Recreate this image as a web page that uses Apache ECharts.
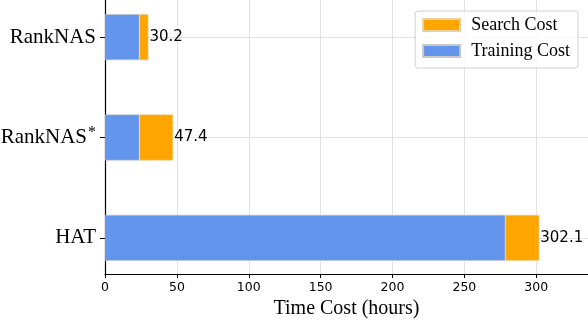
<!DOCTYPE html>
<html>
<head>
<meta charset="utf-8">
<script src="https://cdn.jsdelivr.net/npm/echarts@6/dist/echarts.min.js"></script>
<style>html,body{margin:0;padding:0;background:#fff}#c{width:588px;height:320px}</style>
</head>
<body>
<div id="c"></div>
<script>
// bottom-to-top order
const categories = ['HAT', 'RankNAS*', 'RankNAS'];
const trainingCost = [278.5, 24.0, 24.0];
const searchCost = [23.6, 23.4, 6.2];
const xTicks = [0, 50, 100, 150, 200, 250, 300];

const SERIF = 'Liberation Serif';
const SANS = 'DejaVu Sans';
const XMAX = 336;

const chart = echarts.init(document.getElementById('c'), null, {renderer: 'canvas'});
chart.setOption({
  animation: false,
  backgroundColor: '#fff',
  grid: [
    {left: 105, right: 0, top: -13, bottom: 32, containLabel: false, outerBoundsMode: 'none'},
    {left: 105, right: 0, top: 0, bottom: 46, containLabel: false, outerBoundsMode: 'none'}
  ],
  legend: {
    data: ['Search Cost', 'Training Cost'],
    orient: 'vertical',
    right: 10, top: 11,
    itemWidth: 37, itemHeight: 12, itemGap: 8,
    padding: [5, 8, 8, 7],
    borderColor: '#d0d0d0', borderWidth: 1, borderRadius: 3,
    backgroundColor: 'rgba(255,255,255,0.8)',
    icon: 'rect',
    textStyle: {fontFamily: SERIF, fontSize: 18, color: '#000', padding: [0, 0, 0, 6]}
  },
  xAxis: [
    {gridIndex: 0, type: 'value', min: 0, max: XMAX, show: false},
    {gridIndex: 1, type: 'value', min: xTicks[0], max: XMAX, interval: 50,
     axisLine: {show: true, lineStyle: {color: '#000', width: 1.2}},
     axisTick: {show: true, length: 4, lineStyle: {color: '#000'}},
     axisLabel: {fontFamily: SANS, fontSize: 12.5, color: '#000', margin: 7, showMaxLabel: false,
       formatter: v => xTicks.includes(v) ? String(v) : ''},
     splitLine: {show: true, lineStyle: {color: '#e2e2e2', width: 1}},
     name: 'Time Cost (hours)', nameLocation: 'middle', nameGap: 25,
     nameTextStyle: {fontFamily: SERIF, fontSize: 20, color: '#000'}}
  ],
  yAxis: [
    {gridIndex: 0, type: 'category', data: categories,
     axisLine: {show: false},
     axisTick: {show: true, alignWithLabel: true, length: 5, lineStyle: {color: '#000'}},
     splitLine: {show: true, alignWithLabel: true, lineStyle: {color: '#e2e2e2', width: 1}},
     axisLabel: {margin: 9, color: '#000', fontFamily: SERIF, fontSize: 21,
       formatter: v => v.endsWith('*') ? '{b|' + v.slice(0, -1) + '}{s|*}' : '{b|' + v + '}',
       rich: {
         b: {fontFamily: SERIF, fontSize: 21, color: '#000'},
         s: {fontFamily: SERIF, fontSize: 16, color: '#000', padding: [0, 0, 10, 1]}
       }}},
    {gridIndex: 1, type: 'value', min: 0, max: 1,
     axisLine: {show: true, onZero: false, lineStyle: {color: '#000', width: 1.2}},
     axisTick: {show: false}, axisLabel: {show: false}, splitLine: {show: false}}
  ],
  series: [
    {name: 'Training Cost', type: 'bar', stack: 'cost', xAxisIndex: 0, yAxisIndex: 0,
     barWidth: 46, data: trainingCost,
     itemStyle: {color: '#6495ED', borderColor: '#c8c8c8', borderWidth: 0.6}},
    {name: 'Search Cost', type: 'bar', stack: 'cost', xAxisIndex: 0, yAxisIndex: 0,
     barWidth: 46, data: searchCost,
     itemStyle: {color: '#FFA500', borderColor: '#e8d0a0', borderWidth: 0.6},
     label: {show: true, position: 'right', distance: 1, color: '#000',
       fontFamily: SANS, fontSize: 15,
       formatter: p => (trainingCost[p.dataIndex] + searchCost[p.dataIndex]).toFixed(1)}}
  ]
});
</script>
</body>
</html>
